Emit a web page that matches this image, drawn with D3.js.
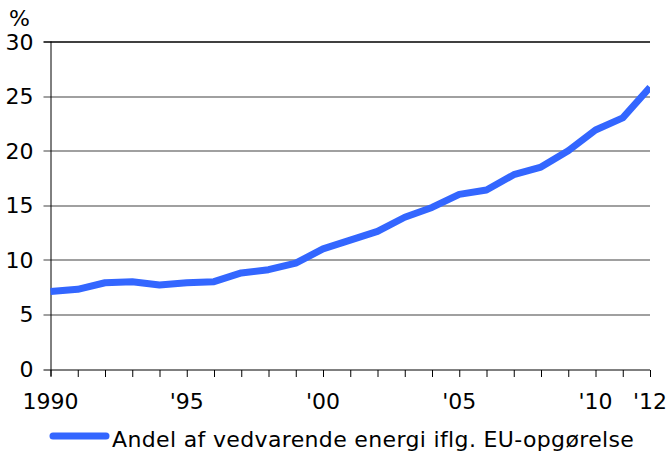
<!DOCTYPE html>
<html>
<head>
<meta charset="utf-8">
<script src="https://cdn.jsdelivr.net/npm/d3@7"></script>
<style>
  body { margin: 0; background: #fff; }
  text { font-family: "DejaVu Sans", Verdana, sans-serif; font-size: 22px; fill: #000; }
</style>
</head>
<body>
<script>
// data
var years = d3.range(1990, 2013);
var shares = [7.1, 7.3, 7.9, 8.0, 7.7, 7.9, 8.0, 8.8, 9.1, 9.7, 11.0, 11.8,
              12.6, 13.9, 14.8, 16.0, 16.4, 17.8, 18.5, 20.0, 21.9, 23.0, 25.8];
var yTicks = [0, 5, 10, 15, 20, 25, 30];
var xLabelYears = [1990, 1995, 2000, 2005, 2010, 2012];
var xLabels = ["1990", "'95", "'00", "'05", "'10", "'12"];
var seriesName = "Andel af vedvarende energi iflg. EU-opgørelse";
var unitLabel = "%";

var width = 668, height = 453;
var margin = {top: 41.5, right: 18, bottom: 84, left: 50.5};
var innerW = width - margin.left - margin.right;
var innerH = height - margin.top - margin.bottom;
var blue = "#3366ff";

var svg = d3.select("body").append("svg")
    .attr("width", width)
    .attr("height", height);

var g = svg.append("g")
    .attr("transform", "translate(" + margin.left + "," + margin.top + ")");

var x = d3.scaleLinear().domain([1990, 2012]).range([0, innerW]);
var y = d3.scaleLinear().domain([0, 30]).range([innerH, 0]);

// horizontal grid
g.selectAll(".grid")
    .data(yTicks.filter(function (d) { return d > 0; }))
    .enter().append("line")
    .attr("class", "grid")
    .attr("x1", -7)
    .attr("x2", innerW)
    .attr("y1", function (d) { return Math.round(y(d)) + 0.5; })
    .attr("y2", function (d) { return Math.round(y(d)) + 0.5; })
    .attr("stroke", function (d) { return d === 30 ? "#000" : "#808080"; })
    .attr("stroke-width", 1.3);

// y labels
g.selectAll(".ylab")
    .data(yTicks)
    .enter().append("text")
    .attr("class", "ylab")
    .attr("text-anchor", "end")
    .attr("x", -17)
    .attr("y", function (d) { return y(d) + 8; })
    .text(function (d) { return d; });

svg.append("text")
    .attr("x", 9)
    .attr("y", 26)
    .text(unitLabel);

// x axis
var xAxis = d3.axisBottom(x)
    .tickValues(years)
    .tickSize(7)
    .tickFormat("");

var xg = g.append("g")
    .attr("transform", "translate(0," + (Math.round(innerH) + 0.5) + ")")
    .call(xAxis);
xg.select(".domain").attr("d", "M-7,0H" + innerW).attr("stroke", "#000");
xg.selectAll(".tick line").attr("stroke", "#000");

g.selectAll(".xlab")
    .data(xLabelYears)
    .enter().append("text")
    .attr("class", "xlab")
    .attr("text-anchor", "middle")
    .attr("x", function (d) { return x(d); })
    .attr("y", innerH + 40)
    .text(function (d, i) { return xLabels[i]; });

// y axis line
g.append("line")
    .attr("x1", 0.5).attr("x2", 0.5)
    .attr("y1", 0).attr("y2", innerH + 7)
    .attr("stroke", "#000");

// series
var line = d3.line()
    .x(function (d, i) { return x(years[i]); })
    .y(function (d) { return y(d); });

g.append("clipPath").attr("id", "clip")
    .append("rect")
    .attr("x", -10).attr("y", -10)
    .attr("width", innerW + 10).attr("height", innerH + 20);

g.append("path")
    .datum(shares)
    .attr("clip-path", "url(#clip)")
    .attr("fill", "none")
    .attr("stroke", blue)
    .attr("stroke-width", 7)
    .attr("stroke-linejoin", "round")
    .attr("d", line);

// legend
var lg = svg.append("g").attr("transform", "translate(0,436)");
lg.append("line")
    .attr("x1", 53).attr("x2", 106)
    .attr("y1", 0).attr("y2", 0)
    .attr("stroke", blue)
    .attr("stroke-width", 7)
    .attr("stroke-linecap", "round");
lg.append("text")
    .attr("x", 112)
    .attr("y", 11)
    .attr("letter-spacing", "0.35px")
    .text(seriesName);
</script>
</body>
</html>
